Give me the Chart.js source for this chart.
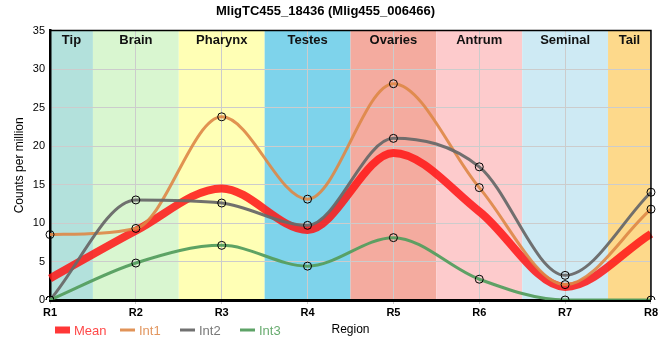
<!DOCTYPE html>
<html>
<head>
<meta charset="utf-8">
<script src="https://cdn.jsdelivr.net/npm/chart.js@4"></script>
<style>
  body { margin: 0; background: #fff; }
</style>
</head>
<body>
<canvas id="myChart" width="660" height="360"></canvas>
<script>
const regions = ['R1', 'R2', 'R3', 'R4', 'R5', 'R6', 'R7', 'R8'];
const tissues = ['Tip', 'Brain', 'Pharynx', 'Testes', 'Ovaries', 'Antrum', 'Seminal', 'Tail'];
const meanCpm = [2.8, 9.0, 14.5, 9.1, 19.1, 11.5, 1.7, 8.6];
const int1Cpm = [8.5, 9.3, 23.8, 13.1, 28.1, 14.6, 2.0, 11.8];
const int2Cpm = [0, 13.0, 12.6, 9.7, 21.0, 17.3, 3.2, 14.0];
const int3Cpm = [0, 4.8, 7.1, 4.4, 8.1, 2.7, 0, 0];

const tissueColors = ['#b3e1dc', '#d9f6d0', '#ffffb5', '#7ed3eb', '#f4ab9f', '#fdcbcc', '#ceeaf4', '#fdd98b'];
const legendX = [55, 120, 180, 240];

Chart.defaults.font.family = "'Liberation Sans', Arial, sans-serif";

// fonds colores par tissu + etiquettes
const bandsPlugin = {
  id: 'bands',
  beforeDraw(chart) {
    const { ctx, chartArea } = chart;
    const x = chart.scales.x;
    ctx.save();
    tissues.forEach((name, i) => {
      const left = Math.max(x.getPixelForValue(i - 0.5), chartArea.left);
      const right = Math.min(x.getPixelForValue(i + 0.5), chartArea.right);
      ctx.fillStyle = tissueColors[i];
      ctx.fillRect(left, chartArea.top, right - left, chartArea.bottom - chartArea.top);
    });
    ctx.restore();
  },
  beforeDatasetsDraw(chart) {
    const { ctx, chartArea } = chart;
    const x = chart.scales.x;
    ctx.save();
    ctx.font = "bold 13px 'Liberation Sans', Arial, sans-serif";
    ctx.fillStyle = '#111';
    ctx.textAlign = 'center';
    ctx.textBaseline = 'middle';
    tissues.forEach((name, i) => {
      const left = Math.max(x.getPixelForValue(i - 0.5), chartArea.left);
      const right = Math.min(x.getPixelForValue(i + 0.5), chartArea.right);
      ctx.fillText(name, (left + right) / 2, chartArea.top + 10);
    });
    ctx.restore();
  },
  afterDraw(chart) {
    const { ctx, chartArea } = chart;
    ctx.save();
    // bord haut et droit
    ctx.strokeStyle = '#000';
    ctx.lineWidth = 1.5;
    ctx.beginPath();
    ctx.moveTo(chartArea.left, chartArea.top);
    ctx.lineTo(chartArea.right, chartArea.top);
    ctx.lineTo(chartArea.right, chartArea.bottom);
    ctx.stroke();

    // legende
    ctx.font = "13px 'Liberation Sans', Arial, sans-serif";
    ctx.textBaseline = 'middle';
    ctx.textAlign = 'left';
    const y = 330;
    chart.data.datasets.forEach((ds, i) => {
      const x0 = legendX[i];
      ctx.strokeStyle = ds.borderColor;
      ctx.lineWidth = ds.legendWidth;
      ctx.beginPath();
      ctx.moveTo(x0, y);
      ctx.lineTo(x0 + 15, y);
      ctx.stroke();
      ctx.fillStyle = ds.legendText;
      ctx.fillText(ds.label, x0 + 19, y + 1);
    });
    ctx.restore();
  }
};

const pointStyle = {
  pointRadius: 4,
  pointBorderColor: '#000',
  pointBackgroundColor: 'rgba(0,0,0,0)',
  pointBorderWidth: 1
};

const ctx = document.getElementById('myChart');
new Chart(ctx, {
  type: 'line',
  data: {
    labels: regions,
    datasets: [
      {
        label: 'Mean',
        data: meanCpm,
        borderColor: 'rgba(255, 20, 20, 0.85)',
        legendText: 'rgba(255, 40, 40, 0.85)',
        legendWidth: 7,
        borderWidth: 8,
        pointRadius: 0,
        order: 4
      },
      {
        label: 'Int1',
        data: int1Cpm,
        borderColor: 'rgba(222, 135, 70, 0.9)',
        legendText: 'rgba(226, 150, 95, 1)',
        legendWidth: 3,
        borderWidth: 3,
        ...pointStyle,
        order: 3
      },
      {
        label: 'Int2',
        data: int2Cpm,
        borderColor: 'rgba(105, 105, 105, 0.95)',
        legendText: 'rgba(120, 120, 120, 1)',
        legendWidth: 3,
        borderWidth: 3,
        ...pointStyle,
        order: 2
      },
      {
        label: 'Int3',
        data: int3Cpm,
        borderColor: 'rgba(85, 158, 95, 0.95)',
        legendText: 'rgba(105, 172, 112, 1)',
        legendWidth: 3,
        borderWidth: 3,
        ...pointStyle,
        order: 1
      }
    ]
  },
  options: {
    responsive: false,
    animation: false,
    elements: {
      line: { cubicInterpolationMode: 'monotone', fill: false }
    },
    layout: { padding: { top: 0, left: 0, right: 9, bottom: 23 } },
    plugins: {
      legend: { display: false },
      tooltip: { enabled: false },
      title: {
        display: true,
        text: 'MligTC455_18436 (Mlig455_006466)',
        color: '#000',
        font: { size: 13, weight: 'bold' },
        padding: { top: 4, bottom: 11 }
      }
    },
    scales: {
      x: {
        offset: false,
        grid: { color: '#cccccc', tickLength: 4 },
        border: { color: '#000', width: 3 },
        ticks: { color: '#000', font: { size: 11, weight: 'bold' }, padding: 2, maxRotation: 0 },
        title: { display: true, text: 'Region', color: '#000', font: { size: 12 }, padding: 0 },
        afterFit: (scale) => { scale.height = 37; }
      },
      y: {
        min: 0,
        max: 35,
        grid: { color: '#cccccc', drawTicks: false },
        border: { color: '#000', width: 2.5 },
        ticks: { stepSize: 5, color: '#000', font: { size: 11 }, padding: 5 },
        title: { display: true, text: 'Counts per million', color: '#000', font: { size: 12 }, padding: { top: 12, bottom: 0 } },
        afterFit: (scale) => { scale.width = 50; }
      }
    }
  },
  plugins: [bandsPlugin]
});
</script>
</body>
</html>
